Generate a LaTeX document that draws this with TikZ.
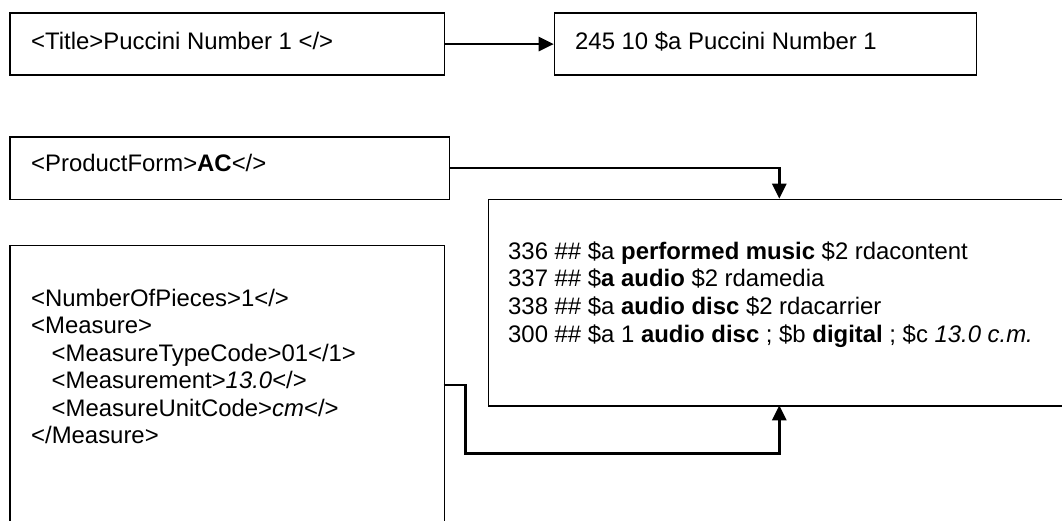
\documentclass[tikz,border=0pt]{standalone}
\usepackage{fontspec}
\setmainfont{Liberation Sans}
\usetikzlibrary{arrows.meta}
\begin{document}
\begin{tikzpicture}[x=1pt,y=-1pt,
  box/.style={draw=black,line width=1.6pt,inner sep=0pt,anchor=north west},
  txt/.style={anchor=base west,inner sep=0pt,font=\fontsize{23.9}{27.5}\selectfont},
  conn/.style={draw=black,line width=2.6pt,-{Triangle[length=15pt,width=14pt]}}]
\useasboundingbox (0,0) rectangle (1062,520);
\clip (0,0) rectangle (1062,520);
% boxes
\node[box,minimum width=434.4pt,minimum height=62pt] (title) at (9.3,12.3) {};
\node[box,minimum width=422pt,minimum height=62pt] (marc) at (553.7,12.3) {};
\node[box,minimum width=439.4pt,minimum height=62.7pt] (pform) at (9.3,136) {};
\node[box,minimum width=600pt,minimum height=206.6pt] (big) at (487.5,198.7) {};
\node[box,minimum width=434.2pt,minimum height=300pt] (meas) at (9.3,244.7) {};
% texts
\node[txt] (t1) at (31,49.5) {<Title>Puccini Number 1 </>};
\node[txt] (t2) at (575,49.5) {245 10 \$a Puccini Number 1};
\node[txt] (t3) at (31,171.5) {<ProductForm>\textbf{AC}</>};
\node[txt] (m1) at (31,306.5) {<NumberOfPieces>1</>};
\node[txt] (m2) at (31,333.9) {<Measure>};
\node[txt] (m3) at (51.5,361.3) {<MeasureTypeCode>01</1>};
\node[txt] (m4) at (51.5,388.7) {<Measurement>\textit{13.0}</>};
\node[txt] (m5) at (51.5,416.1) {<MeasureUnitCode>\textit{cm}</>};
\node[txt] (m6) at (31,443.5) {</Measure>};
\node[txt] (b1) at (508,259) {336 \#\# \$a \textbf{performed music} \$2 rdacontent};
\node[txt] (b2) at (508,286.8) {337 \#\# \$\textbf{a audio} \$2 rdamedia};
\node[txt] (b3) at (508,314.6) {338 \#\# \$a \textbf{audio disc} \$2 rdacarrier};
\node[txt] (b4) at (508,342.4) {300 \#\# \$a 1 \textbf{audio disc} ; \$b \textbf{digital} ; \$c \textit{13.0 c.m.}};
% connectors
\coordinate (topin) at (779.3,198.7);
\coordinate (botin) at (779.3,405.3);
\coordinate (mout) at (443.5,385);
\draw[conn] (title.east) -- (marc.west);
\draw[conn] (pform.east) -| (topin);
\draw[conn] (mout) -- (465.5,385) -- (465.5,453.3) -| (botin);
\end{tikzpicture}
\end{document}
